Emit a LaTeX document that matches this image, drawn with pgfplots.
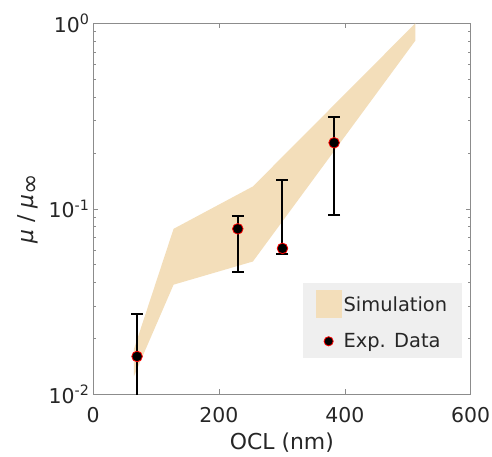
\documentclass[border=0pt]{standalone}
\usepackage{graphicx}
\usepackage{pgfplots}
\pgfplotsset{compat=1.18}
\usepackage{fontspec}
\setmainfont{DejaVu Sans}
\definecolor{band}{RGB}{243,222,186}
\definecolor{legbg}{RGB}{239,239,239}
\definecolor{axgray}{RGB}{140,140,140}
\definecolor{txt}{RGB}{38,38,38}
\newcommand{\ft}{\fontsize{20.5}{24}\selectfont}
\newcommand{\fl}{\fontsize{22}{26}\selectfont}
\newcommand{\fg}{\fontsize{19.5}{23}\selectfont}
\begin{document}
\begin{tikzpicture}
\begin{axis}[
    scale only axis,
    width=377.7bp, height=371bp,
    ymode=log,
    xmin=0, xmax=600,
    ymin=0.01, ymax=1,
    xtick={0,200,400,600},
    xticklabels={0,200,400,600},
    ytick={0.01,0.1,1},
    yticklabels={10\textsuperscript{-2},10\textsuperscript{-1},10\textsuperscript{0}},
    axis line style={draw=axgray, line width=0.7bp},
    every tick/.style={draw=axgray, line width=0.6bp},
    major tick length=5bp,
    minor tick length=3bp,
    tick label style={font=\ft, text=txt},
    xticklabel style={anchor=base, yshift=-28.4bp},
    every axis x label/.style={at={(axis description cs:0.5,-0.150)}, anchor=base},
    every axis y label/.style={at={(axis description cs:-0.173,0.5)}, rotate=90, anchor=center},
    label style={font=\fl, text=txt},
    xlabel={OCL (nm)},
    ylabel={\textit{μ} / \textit{μ}\textsubscript{\scalebox{1.6}{∞}}},
    legend style={at={(1,0)}, anchor=south east, xshift=-8.4bp, yshift=36bp,
        fill=legbg, draw=none, font=\fg, text=txt,
        inner xsep=13bp, inner ysep=7bp, row sep=13bp},
    legend cell align=left,
]
\addplot[fill=band, draw=none,
    legend image code/.code={\fill[band] (2bp,-14bp) rectangle (28bp,14bp);}]
    coordinates {
    (65,0.0175) (128,0.078) (254,0.132) (512,1.0)
    (512,0.806) (254,0.052) (128,0.039) (65,0.0125)
    };
\addlegendentry{Simulation}
\addplot[only marks, mark=*, mark size=5.3bp,
    mark options={fill=black, draw=red, line width=0.8bp},
    legend image code/.code={\draw[only marks, mark=*, mark size=4.6bp,
        mark options={fill=black, draw=red, line width=0.8bp}] plot coordinates {(15bp,0bp)};},
    error bars/.cd, y dir=both, y explicit,
    error bar style={black, line width=2bp},
    error mark options={black, line width=2bp, mark size=6bp, rotate=90},
    ] coordinates {
    (70,0.0160) += (0,0.0110) -= (0,0.0070)
    (230,0.0780) += (0,0.0138) -= (0,0.0322)
    (301,0.0612) += (0,0.0818) -= (0,0.0041)
    (383,0.2270) += (0,0.0840) -= (0,0.1348)
    };
\addlegendentry{Exp. Data}
\end{axis}
\pgfresetboundingbox
\path ([shift={(-93bp,-61.7bp)}]current axis.south west) rectangle ([shift={(21.3bp,23.3bp)}]current axis.north east);
\end{tikzpicture}
\end{document}
